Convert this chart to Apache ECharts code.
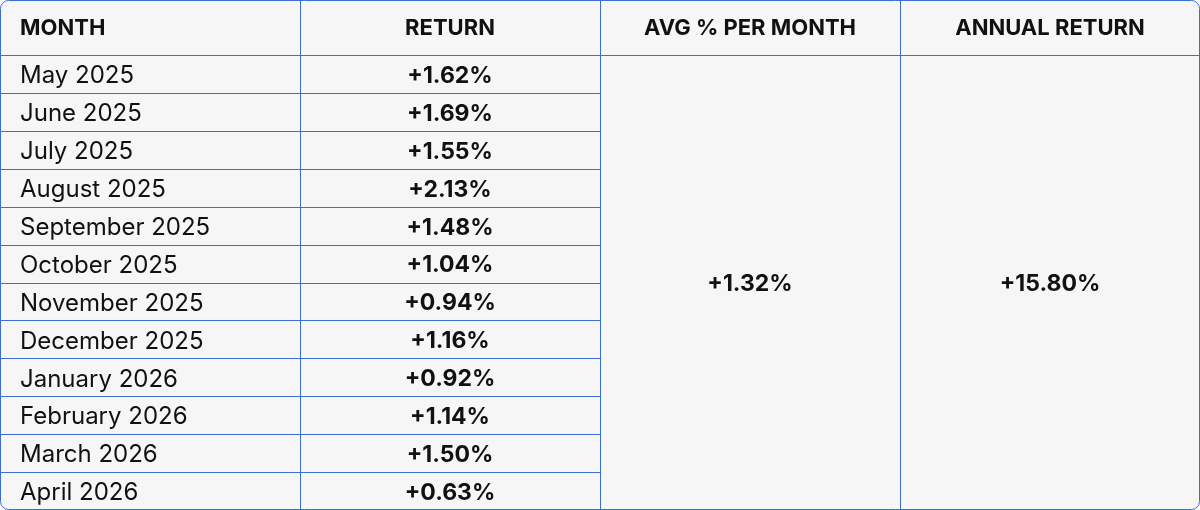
<!DOCTYPE html>
<head>
    <meta charset="utf-8">
    <title>Returns</title>
    <style>body{margin:0;background:#fff}</style>
</head>
<body>
    <div id="main" style="height:510px;width:1200px"></div>
    <script src="https://cdn.jsdelivr.net/npm/echarts@6/dist/echarts.min.js"></script>
    <script type="text/javascript">
    var headers = ['MONTH', 'RETURN', 'AVG % PER MONTH', 'ANNUAL RETURN'];
    var months = ['May 2025', 'June 2025', 'July 2025', 'August 2025', 'September 2025', 'October 2025',
        'November 2025', 'December 2025', 'January 2026', 'February 2026', 'March 2026', 'April 2026'];
    var returns = ['+1.62%', '+1.69%', '+1.55%', '+2.13%', '+1.48%', '+1.04%',
        '+0.94%', '+1.16%', '+0.92%', '+1.14%', '+1.50%', '+0.63%'];
    var avgPerMonth = '+1.32%';
    var annualReturn = '+15.80%';

    var myChart = echarts.init(document.getElementById('main'));
    var W = 1200, H = 510, headH = 55, colW = 300;
    var rowH = (H - headH) / months.length;
    var border = '#3b6fd6', font = 'Inter';
    var els = [];
    // background + outer frame
    els.push({type: 'rect', shape: {x: 0.5, y: 0.5, width: W - 1, height: H - 1, r: 8},
        style: {fill: '#f6f6f6', stroke: border, lineWidth: 1}});
    // column lines
    for (var c = 1; c < 4; c++) {
        els.push({type: 'line', shape: {x1: c * colW + 0.5, y1: 0, x2: c * colW + 0.5, y2: H},
            style: {stroke: border, lineWidth: 1}});
    }
    // header bottom line
    els.push({type: 'line', shape: {x1: 0, y1: headH + 0.5, x2: W, y2: headH + 0.5},
        style: {stroke: border, lineWidth: 1}});
    // row lines in first two columns
    for (var i = 1; i < months.length; i++) {
        var y = Math.round(headH + i * rowH) + 0.5;
        els.push({type: 'line', shape: {x1: 0, y1: y, x2: 2 * colW, y2: y},
            style: {stroke: border, lineWidth: 1}});
    }
    headers.forEach(function (h, c) {
        els.push({type: 'text', x: c === 0 ? 20 : c * colW + colW / 2, y: headH / 2 + 1,
            style: {text: h, fill: '#111', font: 'bold 22px ' + font,
                textAlign: c === 0 ? 'left' : 'center', textVerticalAlign: 'middle'}});
    });
    months.forEach(function (m, i) {
        var cy = headH + i * rowH + rowH / 2 + 2;
        els.push({type: 'text', x: 20, y: cy,
            style: {text: m, fill: '#111', font: '24px ' + font, textVerticalAlign: 'middle'}});
        els.push({type: 'text', x: colW * 1.5, y: cy,
            style: {text: returns[i], fill: '#111', font: 'bold 23px ' + font,
                textAlign: 'center', textVerticalAlign: 'middle'}});
    });
    var midY = headH + (H - headH) / 2 + 2;
    els.push({type: 'text', x: colW * 2.5, y: midY,
        style: {text: avgPerMonth, fill: '#111', font: 'bold 23px ' + font, textAlign: 'center', textVerticalAlign: 'middle'}});
    els.push({type: 'text', x: colW * 3.5, y: midY,
        style: {text: annualReturn, fill: '#111', font: 'bold 23px ' + font, textAlign: 'center', textVerticalAlign: 'middle'}});

    myChart.setOption({animation: false, graphic: {elements: els}});
    </script>
</body>
